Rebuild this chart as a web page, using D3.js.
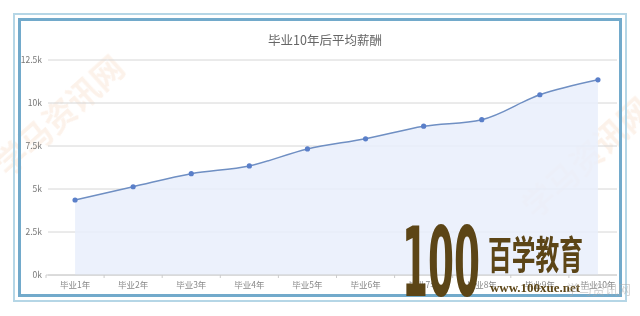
<!DOCTYPE html>
<html>
<head>
<meta charset="utf-8">
<script src="https://cdn.jsdelivr.net/npm/d3@7"></script>
<style>
  body { margin: 0; background: #fff; }
  svg { display: block; font-family: "Noto Sans CJK SC", "Noto Sans", sans-serif; }
</style>
</head>
<body>
<svg id="chart" width="640" height="316"></svg>
<script>
// data
var years = ["毕业1年","毕业2年","毕业3年","毕业4年","毕业5年","毕业6年","毕业7年","毕业8年","毕业9年","毕业10年"]
var salary = [4360, 5130, 5890, 6340, 7330, 7920, 8650, 9030, 10480, 11350]
var yTicks = [0, 2500, 5000, 7500, 10000, 12500]
var title = "毕业10年后平均薪酬"

var svg = d3.select("#chart")

var x = d3.scaleBand().domain(years).range([46, 627])
var y = d3.scaleLinear().domain([0, 12500]).range([275, 60])

// faint watermarks behind the chart
var wm = svg.append("g").attr("fill", "#f3c9aa").attr("opacity", 0.25)
  .attr("font-size", 32).attr("font-weight", "bold")
wm.append("text").attr("transform", "translate(8,178) rotate(-42)").text("学马资讯网")
wm.append("text").attr("transform", "translate(535,220) rotate(-42)").text("学马资讯网")

// frame
svg.append("rect").attr("x", 14).attr("y", 14).attr("width", 612).attr("height", 287)
  .attr("fill", "none").attr("stroke", "#b5d6e6").attr("stroke-width", 2)
svg.append("rect").attr("x", 19.5).attr("y", 19.5).attr("width", 601).attr("height", 276)
  .attr("fill", "none").attr("stroke", "#72aacb").attr("stroke-width", 3)

svg.append("text").attr("x", 325).attr("y", 45).attr("text-anchor", "middle")
  .attr("font-size", 12.5).attr("fill", "#666").text(title)

// grid lines + y labels
svg.append("g").selectAll("line").data(yTicks).enter().append("line")
  .attr("x1", 48).attr("x2", 617)
  .attr("y1", function(d) { return y(d); }).attr("y2", function(d) { return y(d); })
  .attr("stroke", "#d6d6d6").attr("stroke-width", 1)

svg.append("g").selectAll("text").data(yTicks).enter().append("text")
  .attr("x", 42).attr("y", function(d) { return y(d) + 3; })
  .attr("text-anchor", "end").attr("font-size", 8.5).attr("fill", "#777")
  .text(function(d) { return (d / 1000) + "k"; })

var cx = function(d, i) { return x(years[i]) + x.bandwidth() / 2; }

var area = d3.area().x(cx).y0(275).y1(function(d) { return y(d); }).curve(d3.curveMonotoneX)
var line = d3.line().x(cx).y(function(d) { return y(d); }).curve(d3.curveMonotoneX)

svg.append("path").datum(salary).attr("d", area).attr("fill", "#e9eefc").attr("opacity", 0.85)
svg.append("path").datum(salary).attr("d", line).attr("fill", "none")
  .attr("stroke", "#6f8fc3").attr("stroke-width", 1.5)

svg.append("g").selectAll("circle").data(salary).enter().append("circle")
  .attr("cx", cx).attr("cy", function(d) { return y(d); }).attr("r", 2.6)
  .attr("fill", "#5a7fc9")

// x axis
var xAxis = svg.append("g").attr("transform", "translate(0,275)")
  .call(d3.axisBottom(x).tickSize(0).tickPadding(7))
xAxis.select(".domain").remove()
xAxis.selectAll("text").attr("font-size", 8.5).attr("fill", "#888")
  .attr("font-family", "'Noto Sans CJK SC', sans-serif")
xAxis.append("line").attr("x1", 46).attr("x2", 617).attr("stroke", "#ccc")
xAxis.selectAll(".bt").data(years).enter().append("line").attr("class", "bt")
  .attr("x1", function(d) { return x(d); }).attr("x2", function(d) { return x(d); })
  .attr("y1", 0).attr("y2", 3).attr("stroke", "#ccc")

// logo overlay
var logo = svg.append("g").attr("fill", "#5c4516")
logo.append("text").attr("x", 402).attr("y", 296).attr("font-size", 96)
  .attr("font-family", "'DejaVu Sans Condensed', 'DejaVu Sans', sans-serif")
  .attr("font-weight", "bold").attr("textLength", 78).attr("lengthAdjust", "spacingAndGlyphs")
  .text("100")
logo.append("text").attr("x", 488).attr("y", 0).attr("font-size", 30)
  .attr("transform", "translate(0,269) scale(1,1.3)")
  .attr("font-family", "'Noto Sans CJK SC', sans-serif").attr("font-weight", "bold")
  .attr("textLength", 95).attr("lengthAdjust", "spacingAndGlyphs").text("百学教育")
logo.append("text").attr("x", 490).attr("y", 292).attr("font-size", 13)
  .attr("font-family", "'Liberation Serif', serif").attr("font-weight", "bold")
  .attr("textLength", 90).attr("lengthAdjust", "spacingAndGlyphs")
  .text("www.100xue.net")
svg.append("text").attr("x", 566).attr("y", 294).attr("font-size", 13)
  .attr("fill", "#aaa").attr("opacity", 0.5).text("学马资讯网")
</script>
</body>
</html>
